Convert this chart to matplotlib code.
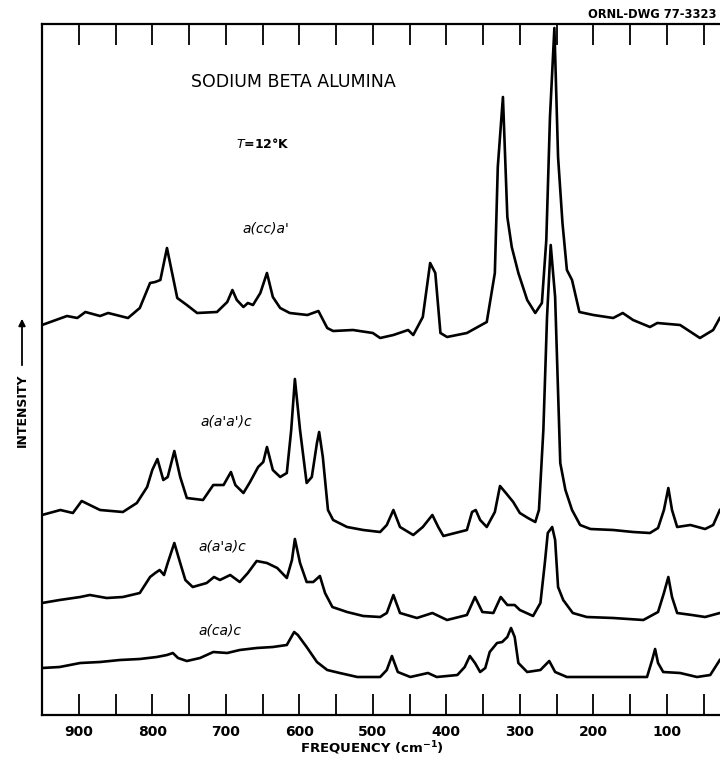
import matplotlib
matplotlib.use("Agg")
import matplotlib.pyplot as plt

# ---- data (frequency cm^-1, intensity in arbitrary units with offsets) ----
cc_freq = [950, 916, 902, 891, 871, 860, 833, 817, 803, 796, 789, 780, 773, 766, 753, 739, 712, 698, 691, 685,
           676, 670, 663, 653, 644, 636, 626, 613, 589, 574, 562, 554, 527, 500, 490, 472, 452, 445, 432, 422,
           415, 408, 399, 372, 345, 334, 330, 323, 317, 311, 302, 290, 279, 270, 264, 259, 253, 248, 242, 236,
           229, 219, 200, 173, 160, 146, 123, 113, 82, 55, 37, 28]
cc_int = [390, 399, 397, 403, 399, 402, 397, 407, 432, 433, 435, 467, 442, 417, 410, 402, 403, 413, 425, 415,
          408, 412, 410, 422, 442, 418, 407, 402, 400, 404, 387, 384, 385, 382, 377, 380, 385, 380, 398, 452,
          442, 382, 378, 382, 393, 442, 548, 618, 498, 468, 442, 415, 402, 412, 475, 598, 687, 558, 492, 445,
          435, 403, 400, 397, 402, 395, 388, 392, 390, 377, 385, 397]

aa2_freq = [950, 925, 908, 896, 885, 871, 840, 821, 807, 800, 793, 785, 779, 770, 762, 753, 731, 717, 703, 693,
            687, 676, 667, 656, 649, 644, 636, 626, 617, 611, 606, 599, 590, 583, 576, 573, 568, 561, 554, 535,
            513, 490, 481, 472, 463, 445, 432, 419, 411, 404, 372, 365, 360, 354, 345, 334, 327, 319, 309, 300,
            289, 279, 274, 268, 263, 258, 252, 245, 238, 229, 218, 204, 173, 146, 123, 112, 104, 98, 93, 86,
            68, 48, 37, 28]
aa2_int = [200, 205, 202, 214, 210, 205, 203, 212, 228, 245, 256, 235, 238, 264, 238, 217, 215, 230, 230, 243,
           230, 222, 233, 248, 253, 268, 245, 238, 242, 285, 336, 285, 232, 238, 272, 283, 258, 205, 195, 188,
           185, 183, 190, 205, 188, 180, 188, 200, 188, 179, 185, 203, 205, 195, 188, 203, 229, 222, 213, 202,
           197, 193, 205, 285, 398, 470, 418, 252, 225, 205, 190, 186, 185, 183, 182, 187, 205, 227, 205, 188,
           190, 186, 190, 205]

aa1_freq = [950, 926, 898, 885, 862, 840, 817, 803, 796, 790, 784, 779, 770, 762, 755, 745, 726, 716, 708, 694,
            681, 670, 658, 644, 630, 617, 610, 606, 599, 590, 581, 572, 565, 555, 535, 513, 490, 481, 472, 463,
            440, 419, 399, 372, 361, 351, 336, 326, 317, 307, 300, 282, 272, 266, 262, 256, 252, 248, 241, 228,
            209, 173, 132, 112, 104, 98, 93, 86, 66, 48, 28]
aa1_int = [112, 115, 118, 120, 117, 118, 122, 138, 142, 145, 140, 152, 172, 152, 135, 128, 132, 138, 135, 140,
           133, 142, 154, 152, 147, 137, 155, 176, 152, 133, 133, 139, 122, 108, 103, 99, 98, 102, 120, 102,
           97, 102, 95, 100, 118, 103, 102, 118, 110, 110, 105, 99, 112, 152, 182, 188, 175, 128, 115, 102,
           98, 97, 95, 103, 122, 138, 118, 102, 100, 98, 102]

ca_freq = [950, 926, 898, 871, 844, 817, 794, 780, 772, 765, 753, 735, 717, 698, 681, 658, 636, 617, 607, 602,
           590, 576, 562, 545, 521, 490, 481, 474, 466, 449, 425, 413, 385, 375, 368, 361, 354, 347, 341, 331,
           324, 317, 312, 307, 302, 290, 272, 260, 252, 236, 195, 150, 127, 120, 116, 112, 105, 82, 59, 41, 28]
ca_int = [47, 48, 52, 53, 55, 56, 58, 60, 62, 57, 54, 57, 63, 62, 65, 67, 68, 70, 83, 80,
          68, 53, 45, 42, 38, 38, 45, 59, 43, 38, 42, 38, 40, 48, 59, 52, 43, 47, 63, 72,
          73, 78, 87, 78, 52, 43, 45, 54, 43, 38, 38, 38, 38, 55, 66, 52, 43, 42, 38, 40, 55]

x_major = [900, 800, 700, 600, 500, 400, 300, 200, 100]
x_minor = [850, 750, 650, 550, 450, 350, 250, 150, 50]
x_labels = ["900", "800", "700", "600", "500", "400", "300", "200", "100"]

W, H = 720, 760
fig = plt.figure(figsize=(W / 100, H / 100), dpi=100)
ax = fig.add_axes([42 / W, 1 - 715 / H, (722 - 42) / W, (715 - 24) / H])

lw = 1.9
for fr, it in [(cc_freq, cc_int), (aa2_freq, aa2_int), (aa1_freq, aa1_int), (ca_freq, ca_int)]:
    ax.plot(fr, it, color="black", lw=lw, solid_joinstyle="round")

ax.set_xlim(950, 25)
ax.set_ylim(0, 691)
ax.set_yticks([])
ax.spines["right"].set_visible(False)
for s in ["left", "bottom", "top"]:
    ax.spines[s].set_linewidth(1.6)

ax.set_xticks(x_major)
ax.set_xticklabels(x_labels)
ax.set_xticks(x_minor, minor=True)
ax.tick_params(axis="x", which="both", direction="in", length=15, width=1.3,
               top=True, bottom=True, labelsize=10, pad=7)
for lab in ax.get_xticklabels():
    lab.set_fontweight("bold")


def ftext(x, y, s, **kw):
    fig.text(x / W, 1 - y / H, s, ha="center", va="center", **kw)


ftext(372, 748, "FREQUENCY (cm$^{\\mathbf{-1}}$)", fontsize=9.5, fontweight="bold")
ftext(293, 82, "SODIUM BETA ALUMINA", fontsize=12.5)
ftext(263, 144, "$T$=12°K", fontsize=9, fontweight="bold")
ftext(266, 229, "a(cc)a'", fontsize=10, style="italic")
ftext(226, 422, "a(a'a')c", fontsize=10, style="italic")
ftext(222, 547, "a(a'a)c", fontsize=10, style="italic")
ftext(220, 630, "a(ca)c", fontsize=10, style="italic")
fig.text(588 / W, 1 - 14 / H, "ORNL-DWG 77-3323", ha="left", va="center",
         fontsize=8.3, fontweight="bold")
ftext(22, 410, "INTENSITY", fontsize=9, fontweight="bold", rotation=90)
fig.patches.append(matplotlib.patches.FancyArrowPatch(
    (22 / W, 1 - 368 / H), (22 / W, 1 - 316 / H), transform=fig.transFigure,
    arrowstyle="-|>", mutation_scale=10, color="black", lw=1.3))

fig.savefig("out.png", dpi=100)
